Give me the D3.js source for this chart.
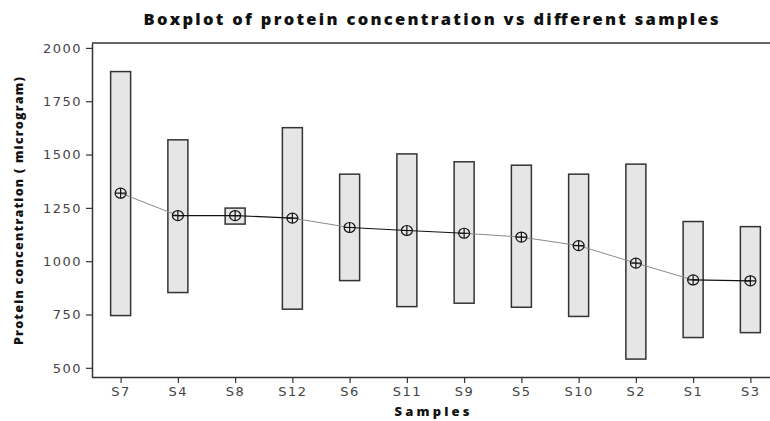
<!DOCTYPE html>
<html><head><meta charset="utf-8">
<script src="https://cdn.jsdelivr.net/npm/d3@7"></script>
<style>body{margin:0;background:#fff}svg{display:block}</style>
</head><body>
<svg id="c" width="770" height="421"></svg>
<script>
const samples = ["S7","S4","S8","S12","S6","S11","S9","S5","S10","S2","S1","S3"];
const boxTop    = [1889,1569,1249,1626,1408,1503,1466,1450,1408,1455,1186,1162];
const boxBottom = [745, 853, 1174, 775, 909, 787, 803, 784, 741, 541, 642, 665];
const means     = [1319,1214,1214,1202,1158,1144,1131,1113,1073,991, 912, 908];
const yTicks    = [500,750,1000,1250,1500,1750,2000];

(function () {
const svg = d3.select("#c");
const pL = 92, pT = 43, pB = 377, pR = 779;
const x = d3.scalePoint().domain(samples).range([pL, pR]).padding(0.5);
const y = d3.scaleLinear().domain([457, 2023]).range([pB, pT]);
const dark = "#333";
const font = "DejaVu Sans, Verdana, sans-serif";
const bfont = "'Open Sans', 'DejaVu Sans', sans-serif";

// frame top line
svg.append("line").attr("x1", pL).attr("x2", 770).attr("y1", y(2023)).attr("y2", y(2023))
  .attr("stroke", dark).attr("stroke-width", 1.5);

// axes
const gy = svg.append("g").attr("transform", `translate(${pL},0)`)
  .call(d3.axisLeft(y).tickValues(yTicks).tickFormat(d3.format("d")).tickSize(6).tickSizeOuter(0).tickPadding(4));
const gx = svg.append("g").attr("transform", `translate(0,${pB})`)
  .call(d3.axisBottom(x).tickSize(6).tickSizeOuter(0).tickPadding(4));
gx.select(".domain").attr("d", `M${pL},0.5H770`);
[gx, gy].forEach(g => {
  g.select(".domain").attr("stroke", dark).attr("stroke-width", 1.5);
  g.selectAll(".tick line").attr("stroke", dark).attr("stroke-width", 1.2);
  g.selectAll("text").attr("fill", "#444").attr("font-family", font)
    .attr("font-size", 13).style("letter-spacing", "1.5px");
});

// boxes
const idx = d3.range(samples.length);
svg.append("g").selectAll("rect").data(idx).join("rect")
  .attr("x", i => x(samples[i]) - 10).attr("width", 20)
  .attr("y", i => y(boxTop[i])).attr("height", i => y(boxBottom[i]) - y(boxTop[i]))
  .attr("fill", "#e6e6e6").attr("stroke", dark).attr("stroke-width", 1.5);

// mean connecting line segments
svg.append("g").selectAll("line").data(idx.slice(0, -1)).join("line")
  .attr("x1", i => x(samples[i])).attr("y1", i => y(means[i]))
  .attr("x2", i => x(samples[i + 1])).attr("y2", i => y(means[i + 1]))
  .attr("stroke", i => Math.abs(means[i] - means[i + 1]) <= 15 ? "#111" : "#8a8a8a")
  .attr("stroke-width", i => Math.abs(means[i] - means[i + 1]) <= 15 ? 1.2 : 1);

// mean markers (circle with cross)
const mk = svg.append("g").selectAll("g").data(idx).join("g")
  .attr("transform", i => `translate(${x(samples[i])},${y(means[i])})`);
mk.append("ellipse").attr("rx", 5.5).attr("ry", 5).attr("fill", "none")
  .attr("stroke", "#111").attr("stroke-width", 1.2);
mk.append("path").attr("d", "M-5.5,0H5.5M0,-5V5").attr("stroke", "#111").attr("stroke-width", 1.2);

// title
svg.append("text").attr("x", 431).attr("y", 25).attr("text-anchor", "middle")
  .attr("font-family", bfont).attr("font-weight", 800).attr("font-size", 16.5)
  .attr("textLength", 575).attr("lengthAdjust", "spacing").attr("fill", "#111")
  .text("Boxplot of protein concentration vs different samples");

// axis labels
svg.append("text").attr("x", 432).attr("y", 416).attr("text-anchor", "middle")
  .attr("font-family", bfont).attr("font-weight", 800).attr("font-size", 13)
  .attr("textLength", 75).attr("lengthAdjust", "spacing").attr("fill", "#111").text("Samples");
svg.append("text").attr("transform", "translate(23,211) rotate(-90)").attr("text-anchor", "middle")
  .attr("font-family", bfont).attr("font-weight", 800).attr("font-size", 12.5)
  .attr("textLength", 268).attr("lengthAdjust", "spacing").attr("fill", "#111")
  .text("Protein concentration ( microgram)");
})();
</script>
</body></html>
